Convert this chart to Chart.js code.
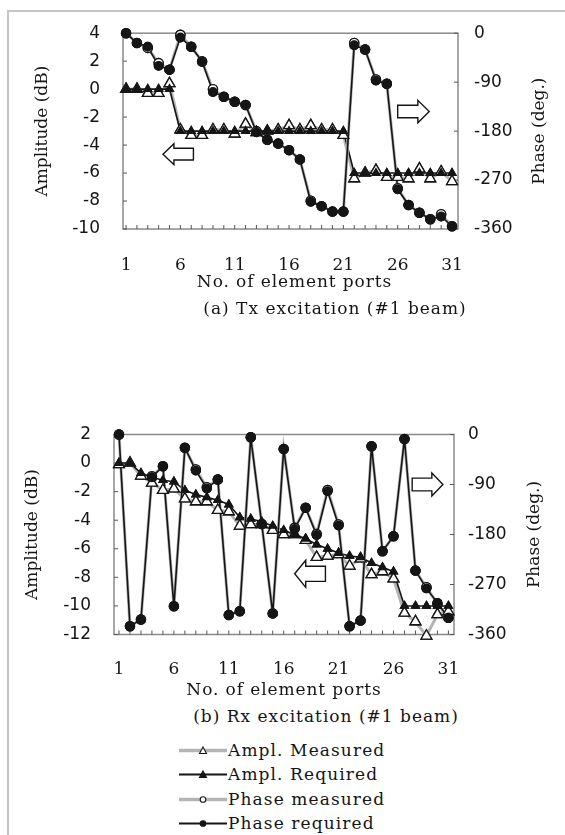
<!DOCTYPE html>
<html>
<head>
<meta charset="utf-8">
<script src="https://cdn.jsdelivr.net/npm/chart.js@4.4.0/dist/chart.umd.min.js"></script>
<style>
  html, body { margin: 0; padding: 0; background: #fff; }
  body { width: 565px; height: 835px; position: relative; overflow: hidden; font-family: "DejaVu Serif", serif; color: #151515; }
  .frame { position: absolute; left: 7px; top: 10px; width: 620px; height: 900px; border-left: 2px solid #c6c6c6; border-top: 2px solid #c6c6c6; }
  canvas { position: absolute; left: 0; }
  #tx { top: 0; }
  #rx { top: 400px; }
  .caption { position: absolute; font-size: 17px; line-height: 20px; letter-spacing: 1px; white-space: nowrap; transform: translateX(-50%); }
  #legend { position: absolute; left: 179px; top: 738px; font-size: 17px; letter-spacing: 1.1px; }
  .row { height: 24.3px; display: flex; align-items: center; white-space: nowrap; }
  .row svg { margin-right: 1px; }
</style>
</head>
<body>
<div class="frame"></div>
<canvas id="tx" width="565" height="300"></canvas>
<div class="caption" style="left:335px; top:298px;">(a) Tx excitation (#1 beam)</div>
<canvas id="rx" width="565" height="301"></canvas>
<div class="caption" style="left:326px; top:706px;">(b) Rx excitation (#1 beam)</div>
<div id="legend"></div>
<script>
// Номера портов и подписи осей
const ports = [1, 2, 3, 4, 5, 6, 7, 8, 9, 10, 11, 12, 13, 14, 15, 16, 17, 18, 19, 20, 21, 22, 23, 24, 25, 26, 27, 28, 29, 30, 31];
const portTicks = [1, 6, 11, 16, 21, 26, 31];
const phaseTicks = [0, -90, -180, -270, -360];
const txAmpTicks = [4, 2, 0, -2, -4, -6, -8, -10];
const rxAmpTicks = [2, 0, -2, -4, -6, -8, -10, -12];

// (a) Tx excitation
const txAmpMeasured = [0, 0, -0.3, -0.3, 0.4, -2.9, -3.3, -3.3, -2.9, -2.9, -3.2, -2.5, -3.1, -3.0, -2.9, -2.6, -2.9, -2.6, -2.9, -2.9, -3.3, -6.4, -6.0, -5.8, -6.3, -6.3, -6.4, -5.7, -6.4, -5.9, -6.6];
const txAmpRequired = [0, 0, 0, 0, 0, -3, -3, -3, -3, -3, -3, -3, -3, -3, -3, -3, -3, -3, -3, -3, -3, -6, -6, -6, -6, -6, -6, -6, -6, -6, -6];
const txPhaseMeasured = [0, -18, -27, -55, -67, -3, -25, -52, -103, -117, -126, -132, -180, -196, -203, -215, -232, -308, -318, -328, -328, -18, -30, -85, -93, -285, -316, -330, -342, -333, -355];
const txPhaseRequired = [0, -18, -25, -60, -67, -8, -25, -52, -108, -117, -126, -132, -182, -196, -203, -215, -232, -310, -318, -328, -328, -22, -30, -87, -93, -287, -316, -330, -342, -337, -355];

// (b) Rx excitation
const rxAmpMeasured = [-0.1, 0, -0.9, -1.4, -1.9, -1.8, -2.5, -2.7, -2.7, -3.3, -3.4, -4.4, -4.3, -4.3, -4.7, -5.0, -5.0, -5.4, -6.6, -6.5, -6.4, -7.2, -6.7, -7.8, -7.6, -8.1, -10.5, -11.1, -12.1, -10.6, -10.4];
const rxAmpRequired = [0, 0, -0.7, -1.0, -1.2, -1.3, -1.9, -2.2, -2.4, -2.6, -2.9, -3.8, -3.9, -4.1, -4.4, -4.7, -5.0, -5.3, -5.7, -6.0, -6.3, -6.5, -6.6, -7.0, -7.3, -7.6, -10.0, -10.0, -10.0, -10.0, -10.0];
const rxPhaseMeasured = [0, -345, -333, -75, -57, -309, -24, -63, -95, -81, -325, -318, -5, -161, -322, -26, -168, -132, -179, -100, -162, -345, -335, -21, -210, -183, -8, -245, -275, -305, -330];
const rxPhaseRequired = [0, -345, -333, -77, -57, -309, -24, -65, -97, -81, -325, -318, -5, -161, -322, -26, -170, -132, -181, -102, -164, -345, -335, -21, -210, -183, -8, -245, -277, -303, -330];

const seriesNames = ['Ampl. Measured', 'Ampl. Required', 'Phase measured', 'Phase required'];
const axisTitles = { x: 'No. of element ports', y: 'Amplitude (dB)', y2: 'Phase (deg.)' };

// стрелки-указатели (в координатах портов и дБ)
const txArrows = [
    { x0: 4.4, x1: 7.2, y0: -3.9, y1: -5.4, dir: 'left' },
    { x0: 26.0, x1: 28.9, y0: -0.8, y1: -2.4, dir: 'right' }
];
const rxArrows = [
    { x0: 17.0, x1: 19.8, y0: -6.8, y1: -8.7, dir: 'left' },
    { x0: 27.7, x1: 30.5, y0: -0.7, y1: -2.3, dir: 'right' }
];

const serif = '"DejaVu Serif", serif';
const sans = '"DejaVu Sans", sans-serif';
const ink = '#151515';
const grayLine = '#b4b4b4';

const styles = [
    { line: grayLine, width: 3, point: 'triangle', radius: 6.2, fill: '#fff', axis: 'y' },
    { line: ink, width: 1.6, point: 'triangle', radius: 4.5, fill: ink, axis: 'y' },
    { line: grayLine, width: 3, point: 'circle', radius: 4.6, fill: '#fff', axis: 'y2' },
    { line: ink, width: 1.6, point: 'circle', radius: 4.3, fill: ink, axis: 'y2' }
];

function toPoints(values) {
    return ports.map((p, i) => ({ x: p, y: values[i] }));
}

const bigArea = { left: -9999, top: -9999, right: 9999, bottom: 9999 };

// рамка, засечки внутрь, маркеры поверх линий, стрелки и заголовки осей
const framePlugin = {
    id: 'frame',
    beforeDatasetsDraw(chart) {
        const { ctx, chartArea: a, scales } = chart;
        ctx.save();
        ctx.strokeStyle = '#8a8a8a';
        ctx.lineWidth = 1.5;
        ctx.strokeRect(a.left, a.top, a.right - a.left, a.bottom - a.top);
        ctx.strokeStyle = '#555';
        ctx.lineWidth = 1;
        ctx.beginPath();
        ports.forEach(p => {
            const x = scales.x.getPixelForValue(p);
            ctx.moveTo(x, a.bottom);
            ctx.lineTo(x, a.bottom - 4);
        });
        scales.y.ticks.forEach(t => {
            const y = scales.y.getPixelForValue(t.value);
            ctx.moveTo(a.left, y);
            ctx.lineTo(a.left + 4, y);
        });
        scales.y2.ticks.forEach(t => {
            const y = scales.y2.getPixelForValue(t.value);
            ctx.moveTo(a.right, y);
            ctx.lineTo(a.right - 4, y);
        });
        ctx.stroke();
        ctx.restore();
    },
    afterDatasetsDraw(chart, args, opts) {
        const { ctx, scales } = chart;
        // маркеры: сначала измеренные, затем требуемые
        [0, 2, 1, 3].forEach(i => {
            chart.getDatasetMeta(i).data.forEach(el => el.draw(ctx, bigArea));
        });
        // стрелки
        ctx.save();
        ctx.strokeStyle = ink;
        ctx.fillStyle = '#fff';
        ctx.lineWidth = 1.4;
        (opts.arrows || []).forEach(ar => {
            const x0 = scales.x.getPixelForValue(ar.x0);
            const x1 = scales.x.getPixelForValue(ar.x1);
            const y0 = scales.y.getPixelForValue(ar.y0);
            const y1 = scales.y.getPixelForValue(ar.y1);
            const w = x1 - x0, h = y1 - y0, yc = (y0 + y1) / 2;
            const hl = w * 0.36, sh = h * 0.56;
            ctx.beginPath();
            if (ar.dir === 'left') {
                ctx.moveTo(x0, yc);
                ctx.lineTo(x0 + hl, y0);
                ctx.lineTo(x0 + hl, yc - sh / 2);
                ctx.lineTo(x1, yc - sh / 2);
                ctx.lineTo(x1, yc + sh / 2);
                ctx.lineTo(x0 + hl, yc + sh / 2);
                ctx.lineTo(x0 + hl, y1);
            } else {
                ctx.moveTo(x1, yc);
                ctx.lineTo(x1 - hl, y0);
                ctx.lineTo(x1 - hl, yc - sh / 2);
                ctx.lineTo(x0, yc - sh / 2);
                ctx.lineTo(x0, yc + sh / 2);
                ctx.lineTo(x1 - hl, yc + sh / 2);
                ctx.lineTo(x1 - hl, y1);
            }
            ctx.closePath();
            ctx.fill();
            ctx.stroke();
        });
        ctx.restore();
    },
    afterDraw(chart, args, opts) {
        // заголовки осей (оба вертикальных читаются снизу вверх)
        const { ctx, chartArea: a, scales } = chart;
        const half = 10.2;
        const midY = (a.top + a.bottom) / 2;
        ctx.save();
        ctx.fillStyle = ink;
        ctx.font = '17px ' + serif;
        ctx.textAlign = 'center';
        ctx.textBaseline = 'middle';
        [[scales.y.left + 4.8 + half, axisTitles.y], [scales.y2.right - 4.8 - half, axisTitles.y2]].forEach(([x, text]) => {
            ctx.save();
            ctx.translate(x, midY);
            ctx.rotate(-Math.PI / 2);
            ctx.fillText(text, 0, 0);
            ctx.restore();
        });
        ctx.letterSpacing = '0.9px';
        ctx.fillText(axisTitles.x, (a.left + a.right) / 2 + opts.xTitleShift, scales.x.bottom - opts.xTitlePad - half);
        ctx.restore();
    }
};

function makeChart(id, series, ampTicks, geo, arrows) {
    const datasets = series.map((vals, i) => {
        const s = styles[i];
        return {
            label: seriesNames[i],
            data: toPoints(vals),
            yAxisID: s.axis,
            borderColor: s.line,
            borderWidth: s.width,
            pointStyle: s.point,
            pointRadius: s.radius,
            pointBackgroundColor: s.fill,
            pointBorderColor: ink,
            pointBorderWidth: 1.3,
            tension: 0,
            clip: false,
            order: 4 - i
        };
    });
    return new Chart(document.getElementById(id), {
        type: 'line',
        data: { datasets },
        options: {
            responsive: false,
            animation: false,
            devicePixelRatio: 1,
            events: [],
            layout: { padding: geo.pad },
            plugins: {
                legend: { display: false },
                tooltip: { enabled: false },
                frame: { arrows, xTitlePad: geo.xTitlePad, xTitleShift: geo.xTitleShift }
            },
            scales: {
                x: {
                    type: 'linear',
                    min: geo.xMin,
                    max: geo.xMax,
                    afterBuildTicks: s => { s.ticks = portTicks.map(v => ({ value: v })); },
                    afterFit: s => { s.height = geo.xHeight; },
                    ticks: { autoSkip: false, maxRotation: 0, padding: geo.xPad, color: ink, font: { family: serif, size: 17 } },
                    grid: { display: false, drawTicks: false },
                    border: { display: false }
                },
                y: {
                    position: 'left',
                    min: ampTicks[ampTicks.length - 1],
                    max: ampTicks[0],
                    afterBuildTicks: s => { s.ticks = ampTicks.map(v => ({ value: v })); },
                    afterFit: s => { s.width = geo.leftWidth; },
                    ticks: { padding: geo.leftPad, color: ink, font: { family: sans, size: 17 } },
                    grid: { display: false, drawTicks: false },
                    border: { display: false }
                },
                y2: {
                    position: 'right',
                    min: phaseTicks[phaseTicks.length - 1],
                    max: phaseTicks[0],
                    afterBuildTicks: s => { s.ticks = phaseTicks.map(v => ({ value: v })); },
                    afterFit: s => { s.width = geo.rightWidth; },
                    ticks: { padding: geo.rightPad, color: ink, font: { family: sans, size: 17 } },
                    grid: { display: false, drawTicks: false },
                    border: { display: false }
                }
            }
        },
        plugins: [framePlugin]
    });
}

makeChart('tx', [txAmpMeasured, txAmpRequired, txPhaseMeasured, txPhaseRequired], txAmpTicks, {
    pad: { left: 28, right: 10, top: 29, bottom: 0 },
    xMin: 0.72, xMax: 31.55,
    leftWidth: 95, rightWidth: 97, xHeight: 71,
    xPad: 26, xTitlePad: 6.8, xTitleShift: 4, leftPad: 23, rightPad: 16
}, txArrows);

makeChart('rx', [rxAmpMeasured, rxAmpRequired, rxPhaseMeasured, rxPhaseRequired], rxAmpTicks, {
    pad: { left: 18, right: 15, top: 34.5, bottom: 0 },
    xMin: 0.545, xMax: 31.51,
    leftWidth: 96, rightWidth: 96, xHeight: 66.5,
    xPad: 25, xTitlePad: 0, xTitleShift: 0, leftPad: 23, rightPad: 14
}, rxArrows);

// легенда
const legend = document.getElementById('legend');
styles.forEach((s, i) => {
    const mark = s.point === 'triangle'
        ? `<polygon points="24,4 27.5,10.5 20.5,10.5" fill="${s.fill}" stroke="${ink}" stroke-width="1.1"/>`
        : `<circle cx="24" cy="7.5" r="2.8" fill="${s.fill}" stroke="${ink}" stroke-width="1.1"/>`;
    const row = document.createElement('div');
    row.className = 'row';
    row.innerHTML = `<svg width="48" height="14"><line x1="0" y1="7.5" x2="48" y2="7.5" stroke="${s.line}" stroke-width="${s.width + 0.5}"/>${mark}</svg><span>${seriesNames[i]}</span>`;
    legend.appendChild(row);
});
</script>
</body>
</html>
